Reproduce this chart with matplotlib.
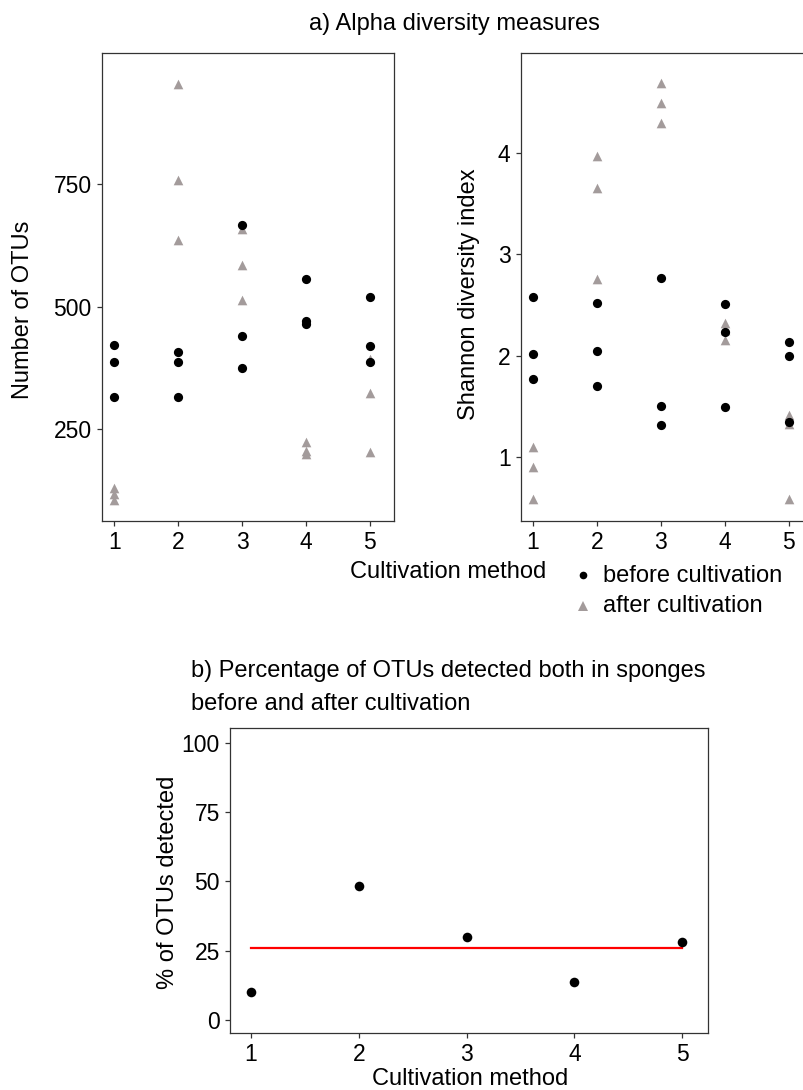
import matplotlib.pyplot as plt
from matplotlib.lines import Line2D
import numpy as np

plt.rcParams['font.family'] = ['Liberation Sans', 'DejaVu Sans']

W, H = 804, 1090

methods = [1, 2, 3, 4, 5]

# number of OTUs, three sponges per cultivation method
otus_before = [[422, 386, 315], [408, 386, 315], [667, 441, 375], [557, 471, 464], [520, 419, 386]]
otus_after = [[129, 117, 105], [956, 758, 637], [658, 585, 514], [223, 206, 198], [394, 323, 202]]

# Shannon diversity index
shannon_before = [[2.58, 2.02, 1.77], [2.52, 2.05, 1.70], [2.77, 1.51, 1.32], [2.51, 2.23, 1.50], [2.14, 2.00, 1.35]]
shannon_after = [[1.10, 0.91, 0.59], [3.97, 3.65, 2.76], [4.68, 4.49, 4.29], [2.32, 2.25, 2.16], [1.42, 1.33, 0.59]]

# % of OTUs detected both before and after cultivation
pct_shared = [10.2, 48.3, 29.9, 13.8, 28.0]

otu_ticks = [250, 500, 750]
shannon_ticks = [1, 2, 3, 4]
pct_ticks = [0, 25, 50, 75, 100]

grey = '#a39b9b'
edge = '#333333'


def px_rect(x0, y0, x1, y1):
    # pixel box (top-left origin) -> figure fraction rect
    return [x0 / W, 1 - y1 / H, (x1 - x0) / W, (y1 - y0) / H]


def style(ax):
    for sp in ax.spines.values():
        sp.set_color(edge)
        sp.set_linewidth(0.9)
    ax.tick_params(direction='out', length=3.3, width=0.9, color=edge,
                   labelsize=16.5, labelcolor='black', pad=4)


def per_method(vals):
    xs, ys = [], []
    for m, v in zip(methods, vals):
        xs += [m] * len(v)
        ys += v
    return xs, ys


fig = plt.figure(figsize=(W / 100, H / 100), dpi=100)

# a) left: number of OTUs
ax1 = fig.add_axes(px_rect(101.7, 52.7, 394.3, 520.7))
x, y = per_method(otus_after)
ax1.scatter(x, y, marker='^', s=48, color=grey, linewidths=0, zorder=2)
x, y = per_method(otus_before)
ax1.scatter(x, y, marker='o', s=44, color='black', linewidths=0, zorder=3)
ax1.set_xlim(0.803, 5.384)
ax1.set_ylim(62.6, 1019)
ax1.set_xticks(methods)
ax1.set_yticks(otu_ticks)
style(ax1)

# a) right: Shannon index (cut off at the right edge of the figure)
ax2 = fig.add_axes(px_rect(520.7, 52.7, W, 520.7))
x, y = per_method(shannon_after)
ax2.scatter(x, y, marker='^', s=48, color=grey, linewidths=0, zorder=2)
x, y = per_method(shannon_before)
ax2.scatter(x, y, marker='o', s=44, color='black', linewidths=0, zorder=3)
ax2.set_xlim(0.8125, 0.8125 + (W - 520.7) / 64)
ax2.set_ylim(0.378, 4.983)
ax2.set_xticks(methods)
ax2.set_yticks(shannon_ticks)
style(ax2)
ax2.spines['right'].set_visible(False)

# b) shared OTUs
ax3 = fig.add_axes(px_rect(230, 727.7, 708.3, 1033.3))
ax3.plot([methods[0], methods[-1]], [np.mean(pct_shared)] * 2, color='red', lw=1.6, zorder=2)
ax3.scatter(methods, pct_shared, marker='o', s=48, color='black', linewidths=0, zorder=3)
ax3.set_xlim(0.805, 5.241)
ax3.set_ylim(-4.8, 105.4)
ax3.set_xticks(methods)
ax3.set_yticks(pct_ticks)
style(ax3)

fs = 17
fig.text(454.5 / W, 1 - 30 / H, 'a) Alpha diversity measures', ha='center', va='baseline', fontsize=fs)
fig.text(23 / W, 1 - 310 / H, 'Number of OTUs', rotation=90, ha='center', va='center', fontsize=fs)
fig.text(469 / W, 1 - 294 / H, 'Shannon diversity index', rotation=90, ha='center', va='center', fontsize=fs)
fig.text(448 / W, 1 - 578 / H, 'Cultivation method', ha='center', va='baseline', fontsize=fs)

# legend
fig.add_artist(Line2D([583 / W], [1 - 575 / H], transform=fig.transFigure, marker='o',
                      markersize=5.5, color='black', markeredgewidth=0, linestyle='none'))
fig.add_artist(Line2D([583 / W], [1 - 606 / H], transform=fig.transFigure, marker='^',
                      markersize=6.5, color=grey, markeredgewidth=0, linestyle='none'))
fig.text(603 / W, 1 - 581.5 / H, 'before cultivation', ha='left', va='baseline', fontsize=fs)
fig.text(603 / W, 1 - 611.5 / H, 'after cultivation', ha='left', va='baseline', fontsize=fs)

fig.text(191.3 / W, 1 - 677 / H, 'b) Percentage of OTUs detected both in sponges', ha='left', va='baseline', fontsize=fs)
fig.text(191.3 / W, 1 - 709.5 / H, 'before and after cultivation', ha='left', va='baseline', fontsize=fs)
fig.text(168 / W, 1 - 882 / H, '% of OTUs detected', rotation=90, ha='center', va='center', fontsize=fs)
fig.text(470 / W, 1 - 1085 / H, 'Cultivation method', ha='center', va='baseline', fontsize=fs)

fig.savefig('out.png', dpi=100)
